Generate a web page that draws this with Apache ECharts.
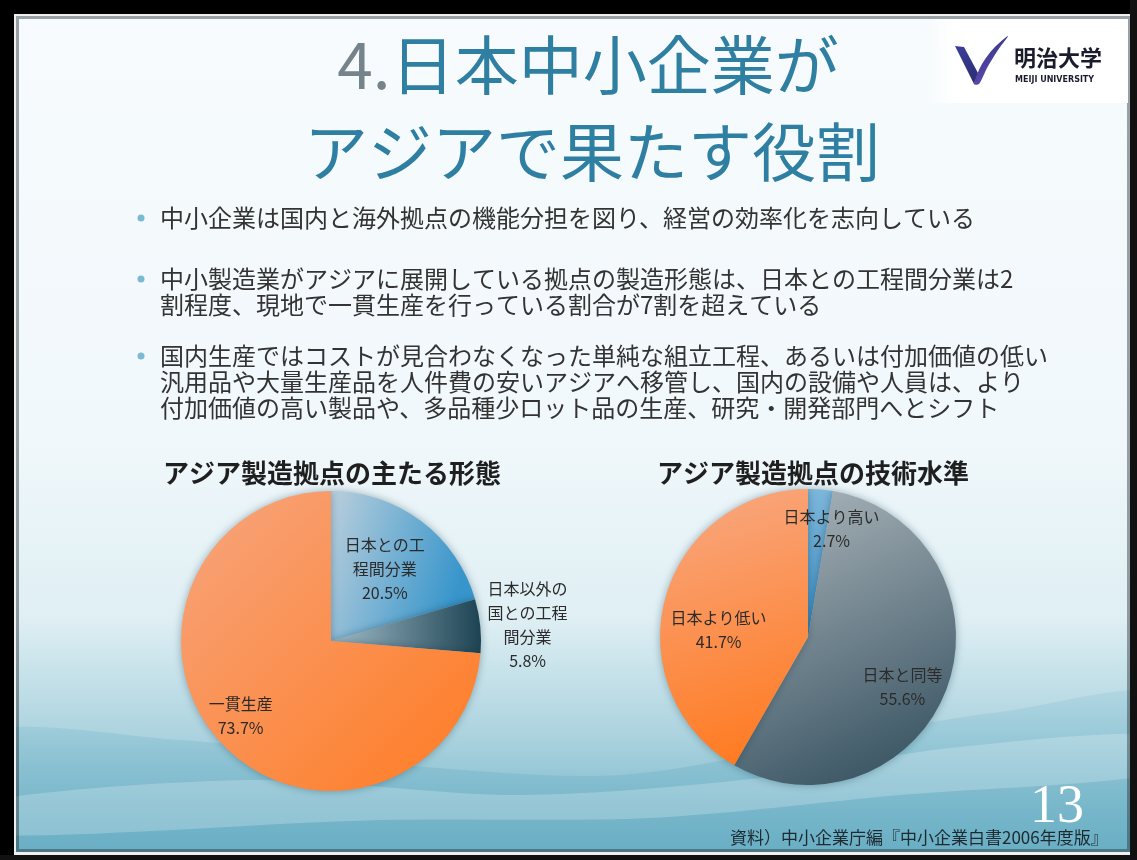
<!DOCTYPE html>
<html>
<head>
<meta charset="utf-8">
<script src="https://cdn.jsdelivr.net/npm/echarts@6/dist/echarts.min.js"></script>
<style>
html, body { margin: 0; padding: 0; background: #000; }
#chart { width: 1137px; height: 860px; }
</style>
</head>
<body>
<div id="chart"></div>
<script>
// アジア製造拠点の主たる形態
const formNames = ['日本との工程間分業', '日本以外の国との工程間分業', '一貫生産']
const formLabels = ['日本との工\n程間分業', '日本以外の\n国との工程\n間分業', '一貫生産']
const formValues = [20.5, 5.8, 73.7]

// アジア製造拠点の技術水準
const techNames = ['日本より高い', '日本と同等', '日本より低い']
const techLabels = ['日本より高い', '日本と同等', '日本より低い']
const techValues = [2.7, 55.6, 41.7]

const slideTitle = ['4.', '日本中小企業が', 'アジアで果たす役割']
const bullets = [
  '中小企業は国内と海外拠点の機能分担を図り、経営の効率化を志向している',
  '中小製造業がアジアに展開している拠点の製造形態は、日本との工程間分業は2\n割程度、現地で一貫生産を行っている割合が7割を超えている',
  '国内生産ではコストが見合わなくなった単純な組立工程、あるいは付加価値の低い\n汎用品や大量生産品を人件費の安いアジアへ移管し、国内の設備や人員は、より\n付加価値の高い製品や、多品種少ロット品の生産、研究・開発部門へとシフト'
]
const chartTitles = ['アジア製造拠点の主たる形態', 'アジア製造拠点の技術水準']
const sourceText = '資料）中小企業庁編『中小企業白書2006年度版』'
const pageNo = '13'

const FONT = '"Noto Sans CJK JP", "Noto Sans", sans-serif'
const LG = echarts.graphic.LinearGradient

const formColors = [
  new LG(0, 0, 1, 0.3, [{ offset: 0, color: '#BACFDC' }, { offset: 1, color: '#3795CB' }]),
  new LG(0, 0, 1, 0, [{ offset: 0, color: '#A3BDC9' }, { offset: 1, color: '#1D4353' }]),
  new LG(0, 0, 1, 1, [{ offset: 0, color: '#F7A57E' }, { offset: 1, color: '#FF7B22' }])
]
const techColors = [
  new LG(0, 0, 0, 1, [{ offset: 0, color: '#7DB6DA' }, { offset: 1, color: '#3C8FC4' }]),
  new LG(0.2, 0, 0.8, 1, [{ offset: 0, color: '#A9B3B9' }, { offset: 1, color: '#34505F' }]),
  new LG(0, 0, 0.6, 1, [{ offset: 0, color: '#F8A983' }, { offset: 1, color: '#FF7A20' }])
]

// label nudges from the default inside position
const formShift = [[7, -10], [119, -8], [-33, 22]]
const techShift = [[17, -31], [22, 24], [-15, 13]]

const chart = echarts.init(document.getElementById('chart'))

function pieSeries(names, labels, values, colors, shift, center, radius) {
  return {
    type: 'pie',
    center: center,
    radius: radius,
    startAngle: 90,
    clockwise: true,
    avoidLabelOverlap: false,
    silent: true,
    label: {
      show: true,
      position: 'inside',
      color: '#2b2b2b',
      fontFamily: FONT,
      fontSize: 16,
      lineHeight: 24,
      formatter: p => labels[p.dataIndex] + '\n' + p.value.toFixed(1) + '%'
    },
    labelLine: { show: false },
    labelLayout: p => ({ dx: shift[p.dataIndex][0], dy: shift[p.dataIndex][1] }),
    itemStyle: {
      shadowBlur: 8,
      shadowColor: 'rgba(0, 40, 60, 0.35)'
    },
    data: names.map((n, i) => ({
      name: n,
      value: values[i],
      itemStyle: { color: colors[i] }
    }))
  }
}

const bulletY = [218, 279, 356]

chart.setOption({
  backgroundColor: '#000',
  animation: false,
  graphic: [
    // slide background
    {
      type: 'rect',
      shape: { x: 16, y: 16, width: 1114, height: 836 },
      style: {
        fill: new LG(0, 0, 0, 1, [
          { offset: 0, color: '#F7FBFD' },
          { offset: 0.5, color: '#F1F8FB' },
          { offset: 0.72, color: '#DFEFF4' },
          { offset: 0.86, color: '#ACD3DF' },
          { offset: 1, color: '#6DB0C4' }
        ])
      },
      silent: true
    },
    // waves
    {
      type: 'polygon',
      shape: {
        smooth: 0.3,
        points: [[-40, 740], [180, 740], [400, 765], [620, 775], [830, 740], [1000, 712], [1180, 700], [1180, 900], [-40, 900]]
      },
      style: {
        fill: new LG(0, 0, 0, 1, [
          { offset: 0, color: 'rgba(120,185,205,0.2)' },
          { offset: 1, color: 'rgba(95,168,192,0.85)' }
        ])
      },
      silent: true
    },
    {
      type: 'polygon',
      shape: {
        smooth: 0.3,
        points: [[-40, 805], [250, 780], [520, 795], [760, 778], [950, 748], [1180, 735], [1180, 770], [900, 795], [650, 818], [380, 820], [-40, 835]]
      },
      style: { fill: 'rgba(255,255,255,0.22)' },
      silent: true
    },
    // frame
    { type: 'rect', shape: { x: 0, y: 0, width: 1137, height: 14 }, style: { fill: '#000' }, silent: true },
    { type: 'rect', shape: { x: 0, y: 0, width: 14, height: 860 }, style: { fill: '#000' }, silent: true },
    { type: 'rect', shape: { x: 1130, y: 0, width: 7, height: 860 }, style: { fill: '#111' }, silent: true },
    { type: 'rect', shape: { x: 0, y: 855, width: 1137, height: 5 }, style: { fill: '#111' }, silent: true },
    { type: 'rect', shape: { x: 14, y: 14, width: 2, height: 841 }, style: { fill: '#f0f0f0' }, silent: true },
    { type: 'rect', shape: { x: 14, y: 14, width: 1116, height: 2 }, style: { fill: '#f0f0f0' }, silent: true },
    { type: 'rect', shape: { x: 14, y: 852, width: 1116, height: 3 }, style: { fill: '#f0f0f0' }, silent: true },
    { type: 'rect', shape: { x: 17.5, y: 17.5, width: 1111, height: 833 }, style: { fill: 'none', stroke: 'rgba(40,50,55,0.45)', lineWidth: 3 }, silent: true },
    // logo box
    {
      type: 'rect',
      shape: { x: 925, y: 19, width: 203, height: 84 },
      style: {
        fill: new LG(0, 0, 1, 0, [
          { offset: 0, color: 'rgba(255,255,255,0)' },
          { offset: 0.15, color: '#ffffff' },
          { offset: 1, color: '#ffffff' }
        ])
      },
      silent: true
    },
    {
      type: 'polygon',
      shape: { points: [[955, 46], [964, 47], [978, 73], [974, 84]] },
      style: { fill: new LG(0, 0, 1, 1, [{ offset: 0, color: '#3B3F9A' }, { offset: 1, color: '#2A2C70' }]) },
      silent: true
    },
    {
      type: 'polygon',
      shape: { smooth: 0.3, points: [[974, 84], [982, 64], [994, 48], [1008, 36], [998, 50], [987, 68], [979, 84]] },
      style: { fill: new LG(0, 0, 1, 1, [{ offset: 0, color: '#2E2F80' }, { offset: 1, color: '#6A52B8' }]) },
      silent: true
    },
    { type: 'text', x: 1014, y: 58, style: { text: '明治大学', font: 'bold 22px ' + FONT, fill: '#1b1b2e', verticalAlign: 'middle' }, silent: true },
    { type: 'text', x: 1015, y: 80, style: { text: 'MEIJI UNIVERSITY', font: 'bold 8px "DejaVu Sans", sans-serif', fill: '#1b1b2e', verticalAlign: 'middle' }, silent: true },
    // slide title
    {
      type: 'text', x: 588, y: 65,
      style: {
        text: '{n|' + slideTitle[0] + '}{t|' + slideTitle[1] + '}',
        align: 'center', verticalAlign: 'middle',
        rich: {
          n: { font: '64px ' + FONT, fill: '#76838B' },
          t: { font: '64px ' + FONT, fill: '#2F7FA2' }
        }
      },
      silent: true
    },
    {
      type: 'text', x: 592, y: 152,
      style: { text: slideTitle[2], font: '64px ' + FONT, fill: '#2F7FA2', align: 'center', verticalAlign: 'middle' },
      silent: true
    },
    // bullets
    ...bulletY.map(y => ({ type: 'circle', shape: { cx: 141, cy: y, r: 3.5 }, style: { fill: '#7CB9D3' }, silent: true })),
    ...bullets.map((t, i) => ({
      type: 'text', x: 160, y: bulletY[i] - 13,
      style: { text: t, font: '24px ' + FONT, fill: '#333333', lineHeight: 26, verticalAlign: 'top' },
      silent: true
    })),
    // chart titles
    { type: 'text', x: 163, y: 473, style: { text: chartTitles[0], font: 'bold 26px ' + FONT, fill: '#1f1f1f', verticalAlign: 'middle' }, silent: true },
    { type: 'text', x: 657, y: 473, style: { text: chartTitles[1], font: 'bold 26px ' + FONT, fill: '#1f1f1f', verticalAlign: 'middle' }, silent: true },
    // page number and source
    { type: 'text', x: 1030, y: 808, style: { text: pageNo, font: '54px "Liberation Serif", serif', fill: '#ffffff', verticalAlign: 'middle' }, silent: true },
    { type: 'text', x: 730, y: 838, style: { text: sourceText, font: '17px ' + FONT, fill: '#1e2a30', verticalAlign: 'middle' }, silent: true }
  ],
  series: [
    pieSeries(formNames, formLabels, formValues, formColors, formShift, [331, 641], 150),
    pieSeries(techNames, techLabels, techValues, techColors, techShift, [808, 637], 148)
  ]
})
</script>
</body>
</html>
